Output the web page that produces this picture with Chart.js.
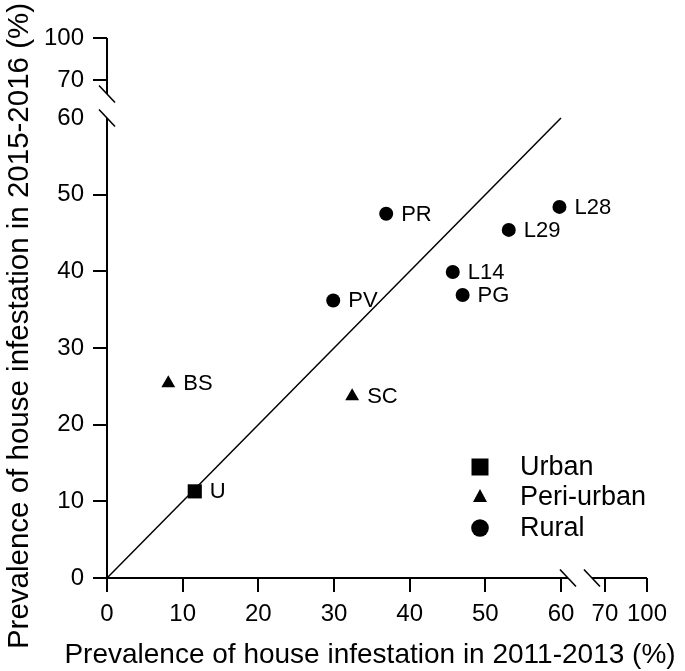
<!DOCTYPE html>
<html>
<head>
<meta charset="utf-8">
<script src="https://cdn.jsdelivr.net/npm/chart.js@4.4.1/dist/chart.umd.min.js"></script>
<style>
  body { margin: 0; background: #fff; }
  #wrap { width: 685px; height: 671px; }
</style>
</head>
<body>
<div id="wrap"><canvas id="myChart" width="685" height="671"></canvas></div>
<script>
const urbanNames = ["U"];
const urbanX = [11.6];
const urbanY = [11.3];

const periNames = ["BS", "SC"];
const periX = [8.1, 32.4];
const periY = [25.4, 23.7];

const ruralNames = ["PV", "PR", "L14", "PG", "L29", "L28"];
const ruralX = [29.9, 36.9, 45.7, 47.0, 53.1, 59.8];
const ruralY = [36.2, 47.5, 39.9, 36.9, 45.4, 48.4];

const lineEnds = [0, 60];

const xTicks = [0, 10, 20, 30, 40, 50, 60, 70, 100];
const yTicks = [0, 10, 20, 30, 40, 50, 60, 70, 100];

// broken axes: 0-60 is linear, then a gap, then 70-100 squeezed
function xBreak(v) { return v <= 60 ? v : 65.81 + (v - 70) * 0.1853; }
function yBreak(v) { return v <= 60 ? v : 64.96 + (v - 70) * 0.1822; }

const FONT = '"Liberation Sans", Arial, sans-serif';

function pts(xs, ys) {
  return xs.map((x, i) => ({ x: xBreak(x), y: yBreak(ys[i]) }));
}

const names = [null, urbanNames, periNames, ruralNames];

const extras = {
  id: "extras",
  afterDatasetsDraw(chart) {
    const ctx = chart.ctx;
    const xs = chart.scales.x, ys = chart.scales.y;
    const x0 = xs.getPixelForValue(0), y0 = ys.getPixelForValue(0);
    const x60 = xs.getPixelForValue(60), y60 = ys.getPixelForValue(60);
    const xEnd = xs.getPixelForValue(xBreak(100));
    const yEnd = ys.getPixelForValue(yBreak(100));

    ctx.save();
    ctx.strokeStyle = "#000";
    ctx.lineWidth = 2;
    const line = (a, b, c, d) => {
      ctx.beginPath(); ctx.moveTo(a, b); ctx.lineTo(c, d); ctx.stroke();
    };
    const slash = (cx, cy) => line(cx - 8, cy - 8.5, cx + 8, cy + 8.5);

    // x axis with break
    line(x0, y0, x60 + 7, y0);
    line(x60 + 31, y0, xEnd, y0);
    ctx.lineWidth = 1.6;
    slash(x60 + 7, y0);
    slash(x60 + 31, y0);

    // y axis with break
    ctx.lineWidth = 2;
    line(x0, y0, x0, y60);
    line(x0, y60 - 24, x0, yEnd);
    ctx.lineWidth = 1.6;
    slash(x0, y60);
    slash(x0, y60 - 24);

    // point labels
    ctx.fillStyle = "#000";
    ctx.font = "22px " + FONT;
    ctx.textBaseline = "middle";
    ctx.textAlign = "left";
    chart.data.datasets.forEach((ds, di) => {
      if (!names[di]) return;
      chart.getDatasetMeta(di).data.forEach((el, i) => {
        ctx.fillText(names[di][i], el.x + 15, el.y + 1);
      });
    });

    // legend
    const legY = [467, 497, 528];
    ctx.font = "27px " + FONT;
    [1, 2, 3].forEach((di, k) => {
      const ds = chart.data.datasets[di];
      const cx = 480, cy = legY[k];
      ctx.beginPath();
      if (ds.pointStyle === "rect") {
        ctx.rect(cx - 8.5, cy - 8.5, 17, 17);
      } else if (ds.pointStyle === "triangle") {
        ctx.moveTo(cx, cy - 8); ctx.lineTo(cx + 7, cy + 5); ctx.lineTo(cx - 7, cy + 5);
        ctx.closePath();
      } else {
        ctx.arc(cx, cy, 8.8, 0, Math.PI * 2);
      }
      ctx.fill();
      ctx.fillText(ds.label, 520, cy + 1);
    });

    // axis titles
    ctx.textAlign = "center";
    ctx.textBaseline = "alphabetic";
    ctx.font = "28px " + FONT;
    ctx.fillText("Prevalence of house infestation in 2011-2013 (%)", 370, 663);
    ctx.translate(28, 326);
    ctx.rotate(-Math.PI / 2);
    ctx.font = "29.5px " + FONT;
    ctx.fillText("Prevalence of house infestation in 2015-2016 (%)", 0, 0);
    ctx.restore();
  }
};

new Chart(document.getElementById("myChart"), {
  type: "scatter",
  data: {
    datasets: [
      {
        label: "1:1",
        data: lineEnds.map(v => ({ x: v, y: v })),
        showLine: true,
        borderColor: "#000",
        borderWidth: 1.5,
        pointRadius: 0,
        order: 5,
      },
      {
        label: "Urban",
        data: pts(urbanX, urbanY),
        pointStyle: "rect",
        pointRadius: 10,
        backgroundColor: "#000",
        borderWidth: 0,
      },
      {
        label: "Peri-urban",
        data: pts(periX, periY),
        pointStyle: "triangle",
        pointRadius: 8,
        backgroundColor: "#000",
        borderWidth: 0,
      },
      {
        label: "Rural",
        data: pts(ruralX, ruralY),
        pointStyle: "circle",
        pointRadius: 7,
        backgroundColor: "#000",
        borderWidth: 0,
      },
    ],
  },
  options: {
    responsive: false,
    animation: false,
    layout: { padding: { top: 38, right: 38, left: 0, bottom: 0 } },
    plugins: { legend: { display: false }, tooltip: { enabled: false } },
    scales: {
      x: {
        type: "linear",
        min: 0,
        max: xBreak(100),
        afterBuildTicks: s => { s.ticks = xTicks.map(v => ({ value: xBreak(v) })); },
        afterFit: s => { s.height = 93; },
        border: { display: false },
        grid: { drawOnChartArea: false, drawTicks: true, tickLength: 14, color: "#000", lineWidth: 2 },
        ticks: {
          autoSkip: false,
          maxRotation: 0,
          padding: 8,
          color: "#000",
          font: { family: FONT, size: 24 },
          callback: (v, i) => String(xTicks[i]),
        },
      },
      y: {
        type: "linear",
        min: 0,
        max: yBreak(100),
        afterBuildTicks: s => { s.ticks = yTicks.map(v => ({ value: yBreak(v) })); },
        afterFit: s => { s.width = 107; },
        border: { display: false },
        grid: {
          drawOnChartArea: false,
          drawTicks: true,
          tickLength: 14,
          lineWidth: 2,
          color: c => (c.index === 6 ? "rgba(0,0,0,0)" : "#000"),
        },
        ticks: {
          autoSkip: false,
          padding: 9,
          color: "#000",
          font: { family: FONT, size: 24 },
          callback: (v, i) => String(yTicks[i]),
        },
      },
    },
  },
  plugins: [extras],
});
</script>
</body>
</html>
